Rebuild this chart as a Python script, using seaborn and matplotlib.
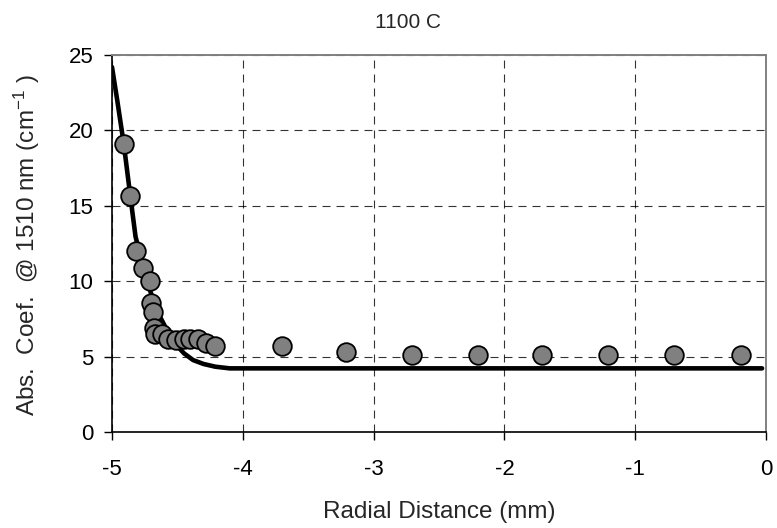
import matplotlib
matplotlib.use("Agg")
import matplotlib.pyplot as plt
import seaborn as sns
import pandas as pd

# measured points
pts_x = [-4.91, -4.86, -4.82, -4.76, -4.71, -4.70, -4.69, -4.68, -4.67, -4.62,
         -4.57, -4.51, -4.45, -4.40, -4.34, -4.28, -4.21, -3.70, -3.21, -2.71,
         -2.20, -1.71, -1.21, -0.70, -0.19]
pts_y = [19.1, 15.65, 12.0, 10.85, 10.0, 8.58, 7.94, 6.92, 6.48, 6.5,
         6.15, 6.1, 6.15, 6.15, 6.15, 5.88, 5.72, 5.72, 5.32, 5.08,
         5.08, 5.08, 5.08, 5.08, 5.08]

# model curve
fit_x = [-5.0, -4.96, -4.91, -4.86, -4.82, -4.76, -4.71, -4.66, -4.58, -4.52,
         -4.45, -4.38, -4.30, -4.21, -4.10, -3.0, -2.0, -1.0, -0.03]
fit_y = [24.2, 22.0, 19.1, 15.65, 12.95, 10.96, 9.42, 8.09, 6.76, 5.88,
         5.22, 4.77, 4.51, 4.33, 4.22, 4.22, 4.22, 4.22, 4.22]

title = "1100 C"
xlabel = "Radial Distance (mm)"
ylabel = r"Abs.  Coef.  @ 1510 nm (cm$^{\mathregular{-1}}$ )"
xticks = [-5, -4, -3, -2, -1, 0]
yticks = [0, 5, 10, 15, 20, 25]

sns.set_style("white")
plt.rcParams['font.family'] = ['Liberation Sans', 'DejaVu Sans']
plt.rcParams['mathtext.fontset'] = 'custom'
plt.rcParams['mathtext.rm'] = 'Liberation Sans'
plt.rcParams['mathtext.it'] = 'Liberation Sans'

W, H = 777, 528
fig = plt.figure(figsize=(W / 100, H / 100), dpi=100)
L, R, T, B = 112, 766, 55, 432
ax = fig.add_axes([L / W, 1 - B / H, (R - L) / W, (B - T) / H])

df_fit = pd.DataFrame({"x": fit_x, "y": fit_y})
df_pts = pd.DataFrame({"x": pts_x, "y": pts_y})

sns.lineplot(data=df_fit, x="x", y="y", ax=ax, color="black", linewidth=3.3,
             sort=False, estimator=None, zorder=3, solid_capstyle="round")
sns.scatterplot(data=df_pts, x="x", y="y", ax=ax, color="#808080", s=180,
                edgecolor="black", linewidth=1.3, zorder=4)

ax.set_xlim(-5, 0)
ax.set_ylim(0, 25)
ax.set_xticks(xticks)
ax.set_yticks(yticks)
ax.set_xticklabels([str(t) for t in xticks])
ax.set_yticklabels([str(t) for t in yticks])
ax.grid(True, color="black", linestyle=(0, (7.2, 5.4)), linewidth=0.8, alpha=0.8)
ax.tick_params(axis='both', direction='out', length=5.5, width=1, colors='black',
               labelsize=16, bottom=True, left=True)
ax.tick_params(axis='x', pad=14)
ax.tick_params(axis='y', pad=8)
for s in ['left', 'bottom']:
    ax.spines[s].set_color('black')
    ax.spines[s].set_linewidth(1.2)
for s in ['top', 'right']:
    ax.spines[s].set_color('#808080')
    ax.spines[s].set_linewidth(1.4)

ax.set_xlabel(xlabel, fontsize=17.5, va='center')
ax.xaxis.set_label_coords((439 - L) / (R - L), (B - 512) / (B - T))
ax.set_ylabel(ylabel, fontsize=17.5, va='center')
ax.yaxis.set_label_coords((27 - L) / (R - L), (B - 245) / (B - T))
fig.text(408 / W, 1 - 23 / H, title, fontsize=15, ha='center', va='center')

fig.savefig("out.png", dpi=100)
